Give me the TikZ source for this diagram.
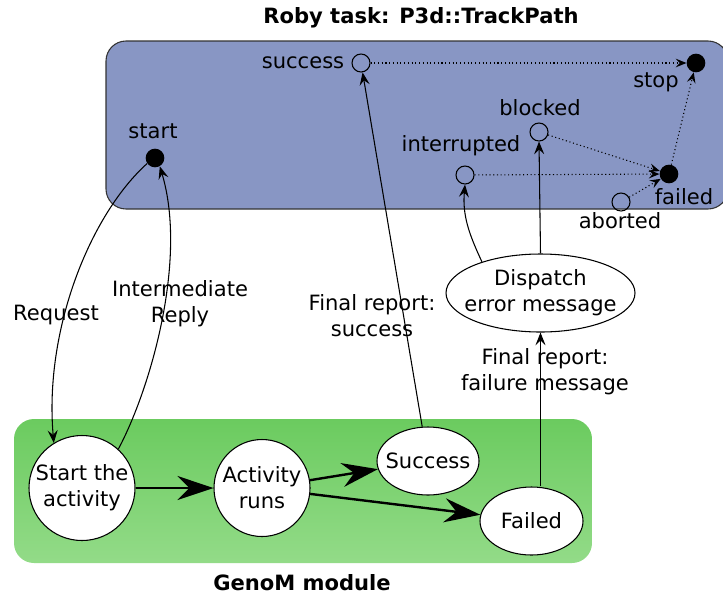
\documentclass[tikz,border=0pt]{standalone}
\usepackage{fontspec}
\setmainfont{DejaVu Sans}
\usetikzlibrary{arrows.meta,shapes.geometric,calc}
\definecolor{robyblue}{HTML}{8896C4}
\definecolor{gtop}{HTML}{6BCB5F}
\definecolor{gbot}{HTML}{93DB88}
\tikzset{
  txt/.style={font=\fontsize{15.8}{19.5}\selectfont, inner sep=0pt, align=center},
  ttl/.style={font=\fontsize{15.8}{19.5}\selectfont\bfseries, inner sep=0pt},
  opencirc/.style={circle, draw, line width=0.8pt, minimum size=13.5pt, inner sep=0pt},
  filledcirc/.style={circle, fill=black, minimum size=14pt, inner sep=0pt},
  state/.style={ellipse, draw, fill=white, line width=0.8pt, inner sep=0pt},
  thin tip/.style={-{Stealth[length=9.5pt,width=7.5pt,inset=3.5pt]}},
  conn/.style={thin tip, line width=0.8pt},
  dotconn/.style={-{Stealth[length=8pt,width=6.5pt,inset=3pt]}, line width=0.8pt, dotted},
  thick conn/.style={line width=1.8pt, -{Stealth[length=27pt,width=18pt,inset=9pt]}},
}
\begin{document}
\begin{tikzpicture}[x=0.75pt,y=-0.75pt]
\useasboundingbox (0,0) rectangle (723,597);
% containers
\draw[fill=robyblue, draw=black!80, line width=0.8pt, rounded corners=15pt] (106,41) rectangle (728,209);
\shade[top color=gtop, bottom color=gbot, rounded corners=15pt] (14,419) rectangle (592,563);
\node[ttl] (title) at (421,18) {Roby task: P3d::TrackPath};
\node[ttl] (genom) at (302,583) {GenoM module};
% roby events
\node[opencirc] (succ) at (361,63) {};
\node[filledcirc] (stop) at (696,63) {};
\node[filledcirc] (start) at (155,158) {};
\node[opencirc] (blocked) at (539,132) {};
\node[opencirc] (intr) at (465,175) {};
\node[filledcirc] (failed) at (669,174) {};
\node[opencirc] (aborted) at (621,202) {};
\node[txt] (lsucc) at (303,63) {success};
\node[txt] (lstop) at (656,82) {stop};
\node[txt] (lstart) at (153,131) {start};
\node[txt] (lblocked) at (540,108) {blocked};
\node[txt] (lintr) at (461,146) {interrupted};
\node[txt] (lfailed) at (684,197) {failed};
\node[txt] (laborted) at (620,221) {aborted};
% dispatch
\node[state, minimum width=141.75pt, minimum height=58.5pt,
      label={[txt]center:Dispatch\\error message}] (disp) at (540.5,293) {};
% genom states
\node[state, minimum width=79.5pt, minimum height=78.75pt,
      label={[txt]center:Start the\\activity}] (sa) at (82,488) {};
\node[state, minimum width=72pt, minimum height=72.75pt,
      label={[txt]center:Activity\\runs}] (run) at (262,488) {};
\node[state, minimum width=76.5pt, minimum height=51pt,
      label={[txt]center:Success}] (suc) at (428,461) {};
\node[state, minimum width=77.25pt, minimum height=51pt,
      label={[txt]center:Failed}] (fail) at (531.5,521) {};
% thick arrows
\draw[thick conn] (sa) -- (run);
\draw[thick conn] (run) -- (suc);
\draw[thick conn] (run) -- (fail);
% request / reply
\draw[conn] (start.215) .. controls (90,215) and (44,330) .. (sa.122);
\draw[conn] (sa.47) .. controls (150,390) and (188,260) .. (start.-60);
\node[txt] (lreq) at (56,315) {Request};
\node[txt] (lrep) at (180,304) {Intermediate\\Reply};
% final reports
\draw[conn] (suc) -- (succ);
\node[txt] (lfs) at (372,316) {Final report:\\success};
\draw[conn] (fail.north -| disp.south) -- (disp.south);
\node[txt] (lff) at (545,372) {Final report:\\failure message};
\draw[conn] (disp.north) -- (blocked.south);
\draw[conn] (disp.152) to[out=115,in=-95] (intr.south);
% dotted event links
\draw[dotconn] (succ) -- (stop);
\draw[dotconn] (intr) -- (failed);
\draw[dotconn] (blocked) -- (failed);
\draw[dotconn] (aborted) -- (failed);
\draw[dotconn] (failed) -- (stop);
\end{tikzpicture}
\end{document}
